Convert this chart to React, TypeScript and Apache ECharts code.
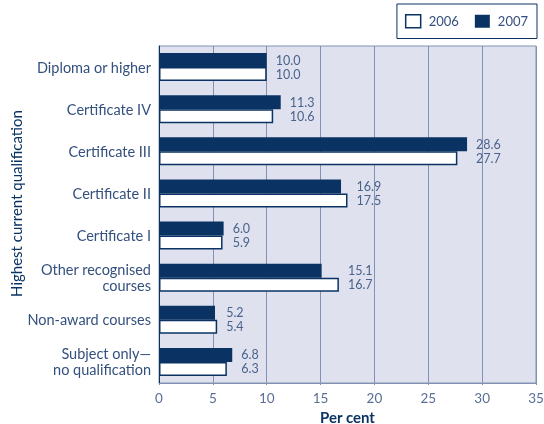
import React, { useEffect, useRef } from "react";
import * as echarts from "echarts";

const categories = [
  "Diploma or higher",
  "Certificate IV",
  "Certificate III",
  "Certificate II",
  "Certificate I",
  "Other recognised\ncourses",
  "Non-award courses",
  "Subject only—\nno qualification",
];
const values2007 = [10.0, 11.3, 28.6, 16.9, 6.0, 15.1, 5.2, 6.8];
const values2006 = [10.0, 10.6, 27.7, 17.5, 5.9, 16.7, 5.4, 6.3];
const xTicks = { min: 0, max: 35, interval: 5 };

const NAVY = "#0a3363";
const TEXT = "#34507e";
const GRID = "#8392b3";
const FONT = "Lato, 'Open Sans', sans-serif";

export default function App() {
  const ref = useRef<HTMLDivElement>(null);
  useEffect(() => {
    if (!ref.current) return;
    const chart = echarts.init(ref.current, undefined, { renderer: "svg" });
    const labelData = categories.map((_, i) => [
      Math.max(values2007[i], values2006[i]),
      i,
      values2007[i],
      values2006[i],
    ]);
    chart.setOption({
      animation: false,
      textStyle: { fontFamily: FONT },
      legend: {
        right: 7,
        top: 4,
        padding: [10, 9, 10, 8],
        borderColor: NAVY,
        borderWidth: 1,
        itemWidth: 15,
        itemHeight: 13,
        itemGap: 16,
        textStyle: { color: TEXT, fontSize: 13, fontFamily: FONT, padding: [0, 0, 0, 3] },
        data: [
          { name: "2006", icon: "rect", itemStyle: { color: "#ffffff", borderColor: NAVY, borderWidth: 1.5 } },
          { name: "2007", icon: "rect", itemStyle: { color: NAVY } },
        ],
      },
      grid: {
        left: 159,
        right: 8,
        top: 46,
        bottom: 41,
        outerBoundsMode: "none",
        containLabel: false,
        show: true,
        backgroundColor: "#dfe2ee",
        borderColor: GRID,
        borderWidth: 1,
      },
      xAxis: {
        type: "value",
        min: xTicks.min,
        max: xTicks.max,
        interval: xTicks.interval,
        name: "Per cent",
        nameLocation: "middle",
        nameMoveOverlap: false,
        nameGap: 26,
        nameTextStyle: { color: NAVY, fontSize: 15, fontWeight: "bold", fontFamily: FONT, lineHeight: 15 },
        axisLine: { show: true, lineStyle: { color: GRID } },
        axisTick: { show: true, length: 2, lineStyle: { color: GRID } },
        axisLabel: { color: "#5a6f96", fontSize: 13.5, margin: 8, fontFamily: FONT },
        splitLine: { show: true, lineStyle: { color: GRID, width: 1 } },
      },
      yAxis: {
        type: "category",
        inverse: true,
        data: categories,
        name: "Highest current qualification",
        nameLocation: "middle",
        nameMoveOverlap: false,
        nameGap: 136,
        nameRotate: 90,
        nameTextStyle: { color: NAVY, fontSize: 15, fontFamily: FONT, padding: [0, 0, 0, 22] },
        axisLine: { show: true, lineStyle: { color: NAVY, width: 1 } },
        axisTick: { show: false },
        axisLabel: { color: TEXT, fontSize: 14.5, margin: 8, lineHeight: 16, fontFamily: FONT, align: "right" },
      },
      series: [
        {
          name: "2007",
          type: "bar",
          data: values2007,
          barWidth: 14,
          barGap: "0%",
          itemStyle: { color: NAVY },
        },
        {
          name: "2006",
          type: "bar",
          data: values2006,
          barWidth: 14,
          barGap: "0%",
          itemStyle: { color: "#ffffff", borderColor: NAVY, borderWidth: 1.5 },
        },
        {
          name: "labels",
          type: "custom",
          data: labelData,
          encode: { x: 0, y: 1 },
          silent: true,
          renderItem: (params: any, api: any) => {
            const p = api.coord([api.value(0), api.value(1)]);
            const a = Number(api.value(2)).toFixed(1);
            const b = Number(api.value(3)).toFixed(1);
            const style = { fill: "#4a628c", fontSize: 12.5, fontFamily: FONT, verticalAlign: "middle", align: "left" };
            return {
              type: "group",
              children: [
                { type: "text", x: p[0] + 9, y: p[1] - 7, style: { ...style, text: a } },
                { type: "text", x: p[0] + 9, y: p[1] + 7, style: { ...style, text: b } },
              ],
            };
          },
        },
      ],
    });
    return () => chart.dispose();
  }, []);
  return <div ref={ref} style={{ width: 544, height: 424, position: "fixed", left: 0, top: 0 }} />;
}
